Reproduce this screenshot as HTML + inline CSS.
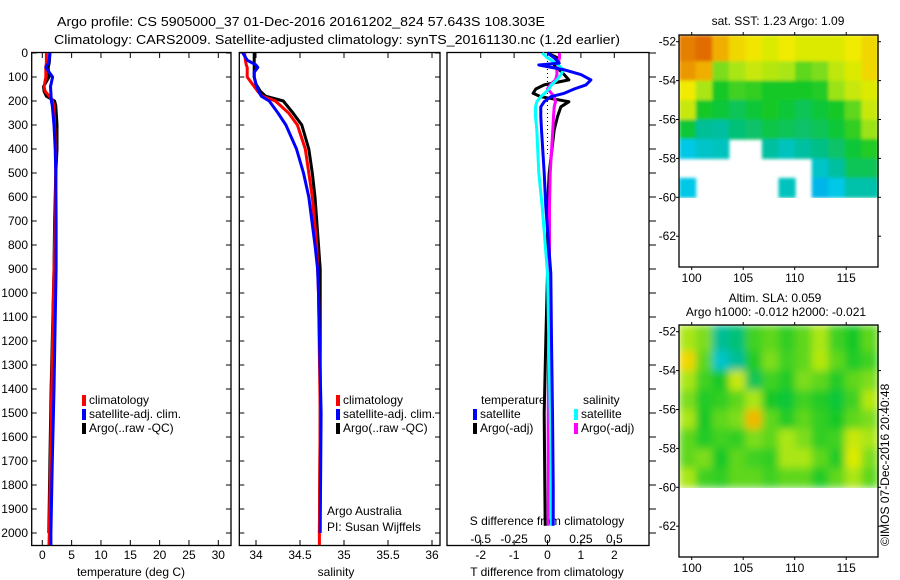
<!DOCTYPE html>
<html><head><meta charset="utf-8"><style>
html,body{margin:0;padding:0;background:#fff;}
svg{display:block;font-family:"Liberation Sans",sans-serif;}
text{font-size:12px;fill:#000;}
</style></head><body>
<svg id="fig" width="900" height="580" viewBox="0 0 900 580" xmlns="http://www.w3.org/2000/svg">
<text x="57" y="26" textLength="488" lengthAdjust="spacingAndGlyphs" style="font-size:13px">Argo profile: CS 5905000_37 01-Dec-2016 20161202_824 57.643S 108.303E</text>
<text x="54" y="44" textLength="566" lengthAdjust="spacingAndGlyphs" style="font-size:13px">Climatology: CARS2009. Satellite-adjusted climatology: synTS_20161130.nc (1.2d earlier)</text>
<g id="layer"></g>
</svg>
<script>
// ---------- data ----------
const depthT = [0,40,60,100,140,160,180,200,220,300,400,500,700,900,1400,1700,2000,2050];
const tempClim = [0.7,0.7,0.6,0.6,0.3,0.5,1.2,1.75,1.95,2.1,2.25,2.3,2.2,2.0,1.6,1.4,1.2,1.15];
const tempSat  = [1.3,1.1,0.6,1.75,1.4,1.45,1.5,1.55,1.7,2.0,2.2,2.3,2.35,2.35,2.0,1.7,1.47,1.47];
const tempArgo = [1.3,1.2,1.0,1.15,0.2,0.3,0.7,2.1,2.3,2.5,2.5,2.3,2.1,2.0,1.5,1.3,1.1,null];
const depthS = [0,30,50,60,80,100,130,160,180,200,250,300,400,500,600,800,900,1000,1500,2000,2050];
const salClim = [33.87,33.88,33.89,33.9,33.9,33.9,33.96,34.02,34.07,34.22,34.37,34.47,34.56,34.6,34.64,34.69,34.7,34.71,34.73,34.72,34.72];
const salSat  = [33.85,33.9,34.0,34.02,33.98,33.98,34.0,34.03,34.06,34.15,34.25,34.34,34.46,34.54,34.6,34.67,34.7,34.71,34.74,34.73,null];
const salArgo = [33.98,33.98,33.98,33.98,33.98,33.98,34.0,34.05,34.11,34.31,34.42,34.52,34.6,34.64,34.67,34.71,34.73,34.73,34.73,34.72,null];
const depthD = [0,20,42,50,70,90,112,133,150,168,182,203,224,265,320,500,640,918,1200,1500,1800,1970];
const dTargo = [0,0.3,0.3,0.2,0.35,0.5,0.64,-0.1,-0.35,-0.43,-0.2,0.64,0.4,0.3,0.2,0.05,0,0,-0.05,-0.1,-0.08,-0.07];
const dTsat  = [0,0.2,0.35,-0.26,0.5,1.0,1.3,1.15,0.8,0.5,0.1,-0.1,-0.2,-0.2,-0.18,-0.1,-0.05,0.1,0.12,0.15,0.17,0.17];
const dSsat  = [-0.04,0,0.06,0.08,0.12,0.1,0.07,0.03,0.01,-0.02,-0.05,-0.08,-0.09,-0.09,-0.08,-0.065,-0.04,0,0.01,0.02,0.03,0.03];
const dSargo = [0.09,0.09,0.08,0.08,0.07,0.07,0.06,0.02,0,0.03,0.05,0.06,0.05,0.045,0.04,0.02,0.015,0.015,0.01,0.005,0.005,0.005];
const depthTicks = [0,100,200,300,400,500,600,700,800,900,1000,1100,1200,1300,1400,1500,1600,1700,1800,1900,2000];
const tempTicks = [0,5,10,15,20,25,30];
const salTicks = [34,34.5,35,35.5,36];
const salTickLabels = ["34","34.5","35","35.5","36"];
const dTTicks = [-2,-1,0,1,2];
const dSTicks = [-0.5,-0.25,0,0.25,0.5];
const latTicks = [-52,-54,-56,-58,-60,-62];
const lonTicks = [100,105,110,115];
const sstField = [
[0.82,0.85,0.74,0.66,0.63,0.6,0.62,0.6,0.6,0.6,0.62,0.66],
[0.78,0.74,0.52,0.55,0.58,0.56,0.55,0.5,0.52,0.57,0.6,0.66],
[0.62,0.55,0.45,0.48,0.47,0.45,0.45,0.45,0.46,0.54,0.58,0.6],
[0.58,0.45,0.44,0.42,0.44,0.45,0.44,0.42,0.44,0.45,0.5,0.58],
[0.44,0.38,0.37,0.4,0.41,0.43,0.42,0.41,0.42,0.44,0.47,0.54],
[0.3,0.33,0.34,null,null,0.37,0.34,0.37,0.39,0.41,0.44,0.46],
[null,null,null,null,null,null,null,null,0.33,0.37,0.42,0.42],
[0.3,null,null,null,null,null,0.34,null,0.28,0.3,0.36,0.36]];
const slaField = [
[0.55,0.52,0.38,0.4,0.48,0.5,0.47,0.5,0.55,0.48,0.45,0.5],
[0.66,0.5,0.33,0.38,0.46,0.52,0.48,0.5,0.56,0.5,0.46,0.48],
[0.55,0.48,0.45,0.58,0.42,0.48,0.46,0.52,0.5,0.46,0.5,0.52],
[0.52,0.46,0.47,0.5,0.55,0.45,0.44,0.48,0.46,0.44,0.48,0.56],
[0.55,0.45,0.5,0.52,0.72,0.5,0.46,0.5,0.47,0.45,0.5,0.52],
[0.5,0.46,0.48,0.47,0.52,0.5,0.55,0.52,0.47,0.48,0.58,0.55],
[0.5,0.52,0.45,0.5,0.48,0.47,0.55,0.55,0.5,0.46,0.6,0.52],
[0.55,0.48,0.47,0.5,0.5,0.48,0.5,0.5,0.46,0.5,0.55,0.5]];

// ---------- helpers ----------
const NS="http://www.w3.org/2000/svg";
const layer=document.getElementById('layer');
function mk(tag,attrs,parent){const e=document.createElementNS(NS,tag);for(const k in attrs)e.setAttribute(k,attrs[k]);(parent||layer).appendChild(e);return e;}
function txt(x,y,s,anchor,size,parent){const t=mk('text',{x:x,y:y,'text-anchor':anchor||'start'},parent);if(size)t.style.fontSize=size+'px';t.textContent=s;return t;}
const yD=d=>53+d*0.24;
const xT=v=>42.3+v*(218.3-42.3)/30;
const xS=v=>256+(v-34)*88;
const xDT=v=>547.5+v*33.4;
const xDS=v=>547.5+v*133.6;

function panel(x0,x1,name){
  const g=mk('g',{});
  
  
  mk('rect',{x:x0,y:52.5,width:x1-x0,height:493,fill:'none',stroke:'#000','stroke-width':1.3},g);
  return g;
}
function yTicks(g,x0,x1,labels,outsideRight){
  depthTicks.forEach(d=>{
    const y=yD(d);
    if(outsideRight){mk('line',{x1:x1,x2:x1+7,y1:y,y2:y,stroke:'#000'},g);}
    else{mk('line',{x1:x0,x2:x0+5,y1:y,y2:y,stroke:'#000'},g);mk('line',{x1:x1,x2:x1-5,y1:y,y2:y,stroke:'#000'},g);}
    if(labels){const t=txt(28,y+4,String(d),'end',12,g);}
  });
}
function xTicks(g,vals,labs,fx,ylab){
  vals.forEach((v,i)=>{const x=fx(v);
    mk('line',{x1:x,x2:x,y1:545.5,y2:540,stroke:'#000'},g);
    mk('line',{x1:x,x2:x,y1:52.5,y2:58,stroke:'#000'},g);
    const t=txt(x,ylab,labs[i],'middle',12,g);
    
    
  });
}
function line(g,depths,vals,fx,color,name,w){
  let d='';let pen=false;
  depths.forEach((z,i)=>{const v=vals[i];if(v===null||v===undefined){pen=false;return;}
    d+=(pen?'L':'M')+fx(v).toFixed(1)+','+yD(z).toFixed(1);pen=true;});
  const p=mk('path',{d:d,fill:'none',stroke:color,'stroke-width':w||3,'stroke-linejoin':'round'},g);
  
  
}
function legend(g,x,y,color,label){
  const r=mk('rect',{x:x,y:y-9,width:4,height:11,fill:color},g);
  
  
  const t=txt(x+7,y,label,'start',12,g);
  
  
}

// ---------- panel 1 temperature ----------
const p1=panel(31.7,231,'temperature-panel');
yTicks(p1,31.7,231,true);
xTicks(p1,tempTicks,tempTicks.map(String),xT,559);
const t1=txt(131,576,'temperature (deg C)','middle',12,p1);
line(p1,depthT,tempArgo,xT,'#000','argo-temperature-line',3);
line(p1,depthT,tempClim,xT,'#f00','climatology-temperature-line',3);
line(p1,depthT,tempSat,xT,'#00f','satellite-temperature-line',3);
legend(p1,82,404,'#f00','climatology');
legend(p1,82,418,'#00f','satellite-adj. clim.');
legend(p1,82,432,'#000','Argo(..raw -QC)');

// ---------- panel 2 salinity ----------
const p2=panel(239.3,440,'salinity-panel');
yTicks(p2,239.3,440,false);
xTicks(p2,salTicks,salTickLabels,xS,559);
const t2=txt(336,576,'salinity','middle',12,p2);
line(p2,depthS,salArgo,xS,'#000','argo-salinity-line',3);
line(p2,depthS,salClim,xS,'#f00','climatology-salinity-line',3);
line(p2,depthS,salSat,xS,'#00f','satellite-salinity-line',3);
legend(p2,336,404,'#f00','climatology');
legend(p2,336,418,'#00f','satellite-adj. clim.');
legend(p2,336,432,'#000','Argo(..raw -QC)');
const a1=txt(327,515,'Argo Australia','start',12,p2);
const a2=txt(327,531,'PI: Susan Wijffels','start',12,p2);

// ---------- panel 3 differences ----------
const p3=panel(447,649,'difference-panel');
yTicks(p3,447,649,false,true);
xTicks(p3,dTTicks,dTTicks.map(String),xDT,559);
dSTicks.forEach(v=>{const t=txt(xDS(v),543,String(v),'middle',12,p3);});
const t3=txt(547,576,'T difference from climatology','middle',12,p3);
const t4=txt(547,525,'S difference from climatology','middle',12,p3);
const zl=mk('line',{x1:547.5,x2:547.5,y1:53,y2:yD(420),stroke:'#000','stroke-dasharray':'1,3'},p3);

line(p3,depthD,dTargo,xDT,'#000','argo-t-diff-line',3);
line(p3,depthD,dSargo,xDS,'#f0f','argo-s-diff-line',3);
line(p3,depthD,dSsat,xDS,'#0ff','satellite-s-diff-line',3);
line(p3,depthD,dTsat,xDT,'#00f','satellite-t-diff-line',3);
const lt=txt(481,404,'temperature','start',12,p3);
const ls=txt(583,404,'salinity','start',12,p3);
legend(p3,473,418,'#00f','satellite');
legend(p3,473,432,'#000','Argo(-adj)');
legend(p3,574,418,'#0ff','satellite');
legend(p3,574,432,'#f0f','Argo(-adj)');

// ---------- maps ----------
function cmap(v){
  const stops=[[0,[0,0,140]],[0.15,[0,60,255]],[0.3,[0,200,230]],[0.38,[0,190,150]],[0.45,[20,200,40]],[0.55,[170,230,20]],[0.62,[240,235,0]],[0.75,[240,170,0]],[0.88,[220,90,0]],[1,[180,20,0]]];
  for(let i=1;i<stops.length;i++){if(v<=stops[i][0]){const a=stops[i-1],b=stops[i];const f=(v-a[0])/(b[0]-a[0]);
    return 'rgb('+a[1].map((c,j)=>Math.round(c+(b[1][j]-c)*f)).join(',')+')';}}
  return 'rgb(180,20,0)';
}
const defs=mk('defs',{});
const flt=mk('filter',{id:'bl',x:'0',y:'0',width:'1',height:'1'},defs);
mk('feGaussianBlur',{stdDeviation:'4'},flt);
const flt2=mk('filter',{id:'bl2',x:'0',y:'0',width:'1',height:'1'},defs);
mk('feGaussianBlur',{stdDeviation:'1.5'},flt2);
function mapPanel(top,field,name,blur){
  const g=mk('g',{});
  
  
  const left=679,right=878,bottom=top+232;
  const yLat=l=>top+6.7+(-52-l)*19.45;
  const xLon=l=>691.7+(l-100)*10.3;
  const cw=(right-left)/field[0].length;
  const cg=mk('g',{filter:blur},g);
  field.forEach((row,r)=>row.forEach((v,c)=>{
    if(v===null)return;
    const rc=mk('rect',{x:(left+c*cw).toFixed(1),y:Math.max(top,yLat(-52-r)-(r===0?7:0)).toFixed(1),width:(cw+0.6).toFixed(1),height:(19.45+(r===0?7:0)+0.6).toFixed(1),fill:cmap(v)},cg);
    
    
  }));
  mk('rect',{x:left,y:top,width:right-left,height:bottom-top,fill:'none',stroke:'#000','stroke-width':1.3},g);
  latTicks.forEach(l=>{const y=yLat(l);mk('line',{x1:left,x2:left-3,y1:y,y2:y,stroke:'#000'},g);mk('line',{x1:right,x2:right+3,y1:y,y2:y,stroke:'#000'},g);
    const t=txt(676,y+4,String(l),'end',12,g);});
  lonTicks.forEach(l=>{const x=xLon(l);mk('line',{x1:x,x2:x,y1:top,y2:top-3,stroke:'#000'},g);mk('line',{x1:x,x2:x,y1:bottom,y2:bottom+3,stroke:'#000'},g);
    const t=txt(x,bottom+15,String(l),'middle',12,g);});
  return g;
}
mapPanel(35,sstField,'sst-map','url(#bl2)');
mapPanel(325,slaField,'sla-map','url(#bl)');
const m1=txt(778,25,'sat. SST: 1.23 Argo: 1.09','middle',12);
const m2=txt(775,302,'Altim. SLA: 0.059','middle',12);
const m3=txt(776,316,'Argo h1000: -0.012 h2000: -0.021','middle',12);
const cr=txt(0,0,'\u00a9IMOS 07-Dec-2016 20:40:48','start',12);
cr.setAttribute('transform','translate(889,546) rotate(-90)');


</script>
</body></html>
